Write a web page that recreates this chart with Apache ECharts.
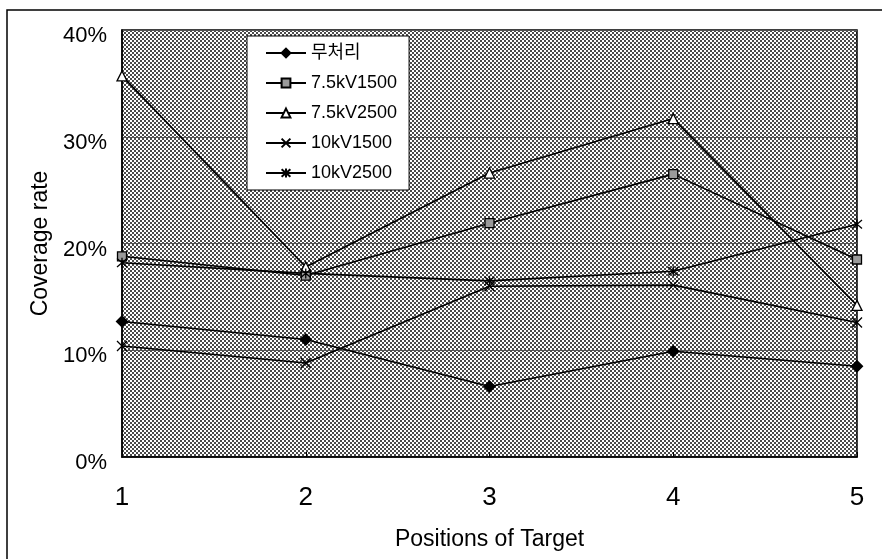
<!DOCTYPE html>
<html>
<head>
<meta charset="utf-8">
<script src="https://cdn.jsdelivr.net/npm/echarts@6/dist/echarts.min.js"></script>
<style>
html,body{margin:0;padding:0;background:#fff;}
#c{width:882px;height:559px;}
</style>
</head>
<body>
<div id="c"></div>
<script>
const categories = ['1', '2', '3', '4', '5'];
const seriesNames = ['무처리', '7.5kV1500', '7.5kV2500', '10kV1500', '10kV2500'];
const s_none = [12.7, 11.0, 6.6, 9.9, 8.5];
const s_75_1500 = [18.8, 17.0, 21.9, 26.5, 18.5];
const s_75_2500 = [35.7, 17.8, 26.6, 31.7, 14.2];
const s_10_1500 = [10.4, 8.8, 16.0, 16.1, 12.6];
const s_10_2500 = [18.2, 17.2, 16.5, 17.4, 21.8];
const yTicks = [0, 10, 20, 30, 40];

const FONT = '"Liberation Sans", Arial, "Noto Sans CJK KR", sans-serif';

// dotted background pattern
const tile = document.createElement('canvas');
tile.width = 4; tile.height = 4;
const tctx = tile.getContext('2d');
tctx.fillStyle = '#ffffff';
tctx.fillRect(0, 0, 4, 4);
tctx.fillStyle = '#4a4a4a';
tctx.fillRect(0, 0, 2, 2);
tctx.fillRect(2, 2, 2, 2);

const chart = echarts.init(document.getElementById('c'), null, {renderer: 'canvas'});

function mk(name, data, symbol, size, fill) {
  return {
    name: name,
    type: 'line',
    data: data,
    symbol: symbol,
    symbolSize: size,
    showSymbol: true,
    lineStyle: {color: '#000', width: 1.6},
    itemStyle: {color: fill, borderColor: '#000', borderWidth: 1.3},
    emphasis: {disabled: true},
    z: 3
  };
}

const option = {
  animation: false,
  backgroundColor: '#fff',
  textStyle: {fontFamily: FONT, color: '#000'},
  graphic: [{
    type: 'rect',
    shape: {x: 7, y: 10, width: 1000, height: 1000},
    style: {fill: null, stroke: '#000', lineWidth: 1.5},
    silent: true,
    z: -10
  }],
  grid: {
    left: 122, top: 30, right: 25, bottom: 102,
    show: true,
    backgroundColor: {image: tile, repeat: 'repeat'},
    borderColor: '#000',
    borderWidth: 1.5
  },
  legend: {
    orient: 'vertical',
    left: 247,
    top: 36,
    data: seriesNames,
    backgroundColor: '#fff',
    borderColor: '#000',
    borderWidth: 1,
    borderRadius: 0,
    padding: [8, 12, 8, 18],
    itemGap: 12,
    itemWidth: 40,
    itemHeight: 11,
    textStyle: {fontFamily: FONT, fontSize: 18, color: '#000'},
    selectedMode: false
  },
  xAxis: {
    type: 'category',
    data: categories,
    boundaryGap: false,
    name: 'Positions of Target',
    nameLocation: 'middle',
    nameGap: 71,
    nameTextStyle: {fontFamily: FONT, fontSize: 23, color: '#000'},
    axisLine: {lineStyle: {color: '#000', width: 1.5}},
    axisTick: {show: true, inside: true, length: 5, lineStyle: {color: '#000'}},
    axisLabel: {fontFamily: FONT, fontSize: 26, color: '#000', margin: 28},
    splitLine: {show: false}
  },
  yAxis: {
    type: 'value',
    min: 0, max: 40, interval: 10,
    name: 'Coverage rate',
    nameLocation: 'middle',
    nameGap: 70,
    nameRotate: 90,
    nameTextStyle: {fontFamily: FONT, fontSize: 23, color: '#000'},
    axisLine: {show: true, lineStyle: {color: '#000', width: 1.5}},
    axisTick: {show: false},
    axisLabel: {
      fontFamily: FONT, fontSize: 22, color: '#000', margin: 15,
      verticalAlign: 'top',
      lineHeight: 12,
      formatter: function (v) { return yTicks.indexOf(v) >= 0 ? v + '%' : ''; }
    },
    splitLine: {show: true, lineStyle: {color: '#555', width: 1}}
  },
  series: [
    mk(seriesNames[0], s_none, 'diamond', 11, '#000'),
    mk(seriesNames[1], s_75_1500, 'rect', 9, '#9a9a9a'),
    mk(seriesNames[2], s_75_2500, 'triangle', 10, '#fff'),
    mk(seriesNames[3], s_10_1500, 'path://M0,0L10,10M10,0L0,10', 10, '#000'),
    mk(seriesNames[4], s_10_2500, 'path://M0,0L10,10M10,0L0,10M5,-1L5,11', 10, '#000')
  ]
};
chart.setOption(option);
</script>
</body>
</html>
